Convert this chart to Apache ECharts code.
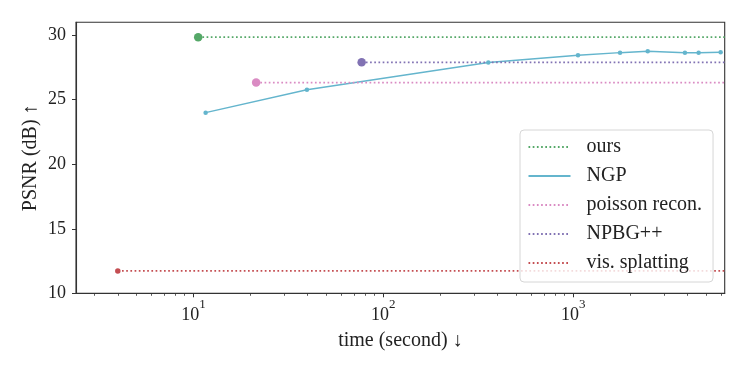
<!DOCTYPE html>
<html><head><meta charset="utf-8">
<script src="https://cdn.jsdelivr.net/npm/echarts@6/dist/echarts.min.js"></script>
<style>html,body{margin:0;padding:0;background:#fff}#c{width:747px;height:374px}</style>
</head><body><div id="c"></div>
<script>
// ---- data ----
const seriesNames = ['ours', 'NGP', 'poisson recon.', 'NPBG++', 'vis. splatting'];
const oursTime = [10.6];
const oursPsnr = [29.85];
const ngpTime = [11.6, 39.6, 357, 1059, 1763, 2466, 3871, 4570, 5970];
const ngpPsnr = [24.0, 25.78, 27.88, 28.45, 28.65, 28.76, 28.65, 28.64, 28.68];
const poissonTime = [21.4];
const poissonPsnr = [26.33];
const npbgTime = [76.9];
const npbgPsnr = [27.9];
const visTime = [4.0];
const visPsnr = [11.73];
const xMajorTicks = [10, 100, 1000];
const xMinorTicks = [3, 4, 5, 6, 7, 8, 9, 20, 30, 40, 50, 60, 70, 80, 90,
  200, 300, 400, 500, 600, 700, 800, 900, 2000, 3000, 4000, 5000, 6000];
const yTicks = [10, 15, 20, 25, 30];
const xMin = 2.41, xMax = 6270, yMin = 10, yMax = 31;

const colors = {
  'ours': '#55A868', 'NGP': '#64B5CD', 'poisson recon.': '#DA8BC3',
  'NPBG++': '#8172B3', 'vis. splatting': '#C44E52'
};
const FONT = '"Liberation Serif", "DejaVu Serif", serif';
const AX = '#333333';

function zipPts(t, p) { return t.map((v, i) => [v, p[i]]); }

function hline(name, t, p) {
  return {
    name: name, type: 'line', data: [[t[0], p[0]], [xMax, p[0]]],
    symbol: 'none', clip: true, z: 3,
    lineStyle: { color: colors[name], width: 1.7, type: [1.7, 2.5], cap: 'butt' },
    itemStyle: { color: colors[name] }
  };
}
function dot(name, t, p, size) {
  return {
    name: name + '_pt', type: 'scatter', data: zipPts(t, p),
    symbol: 'circle', symbolSize: size, z: 4,
    itemStyle: { color: colors[name], opacity: 1 }
  };
}

const chart = echarts.init(document.getElementById('c'), null, { renderer: 'canvas' });
chart.setOption({
  animation: false,
  backgroundColor: '#fff',
  textStyle: { fontFamily: FONT },
  grid: { left: 76, right: 22.3, top: 22.3, bottom: 80.7, show: true,
    borderColor: AX, borderWidth: 1.1, backgroundColor: 'transparent' },
  legend: {
    data: seriesNames,
    orient: 'vertical', left: 520, top: 130,
    padding: [7, 11, 9, 7.5],
    itemWidth: 42, itemHeight: 14, itemGap: 9,
    itemStyle: { opacity: 0 },
    backgroundColor: 'rgba(255,255,255,0.8)',
    borderColor: '#d6d6d6', borderWidth: 1, borderRadius: 4,
    textStyle: { fontFamily: FONT, fontSize: 20, color: '#222', lineHeight: 20, padding: [0, 0, 0, 11] }
  },
  xAxis: [{
    type: 'log', logBase: 10, min: xMin, max: xMax,
    name: 'time (second) \u2193', nameLocation: 'middle', nameGap: 37,
    nameTextStyle: { fontFamily: FONT, fontSize: 20, color: '#222' },
    axisLine: { show: true, lineStyle: { color: AX, width: 1.1 } },
    axisTick: { show: true, length: 4, customValues: xMajorTicks, lineStyle: { color: AX, width: 1 } },
    axisLabel: {
      show: true, margin: 5, customValues: xMajorTicks,
      formatter: function (v) { return '{b|10}{s|' + Math.round(Math.log10(v)) + '}'; },
      rich: {
        b: { fontFamily: FONT, fontSize: 18, color: '#222', verticalAlign: 'bottom', lineHeight: 18 },
        s: { fontFamily: FONT, fontSize: 13, color: '#222', verticalAlign: 'top', padding: [0, 0, 13, 0] }
      }
    },
    splitLine: { show: false }, minorTick: { show: false }
  }, {
    type: 'log', logBase: 10, min: xMin, max: xMax, position: 'bottom',
    axisLine: { show: false },
    axisTick: { show: true, length: 2.5, customValues: xMinorTicks, lineStyle: { color: AX, width: 0.8 } },
    axisLabel: { show: false }, splitLine: { show: false }
  }],
  yAxis: {
    type: 'value', min: yMin, max: yMax, interval: 5,
    name: 'PSNR (dB) \u2191', nameLocation: 'middle', nameGap: 35, nameRotate: 90,
    nameMoveOverlap: false,
    nameTextStyle: { fontFamily: FONT, fontSize: 20, color: '#222' },
    axisLine: { show: true, lineStyle: { color: AX, width: 1.1 } },
    axisTick: { show: true, length: 4, customValues: yTicks, lineStyle: { color: AX, width: 1 } },
    axisLabel: { show: true, margin: 10, customValues: yTicks, fontFamily: FONT, fontSize: 18, color: '#222' },
    splitLine: { show: false }
  },
  series: [
    hline('ours', oursTime, oursPsnr),
    {
      name: 'NGP', type: 'line', data: zipPts(ngpTime, ngpPsnr), symbol: 'none', z: 3,
      lineStyle: { color: colors['NGP'], width: 1.5 }, itemStyle: { color: colors['NGP'] }
    },
    hline('poisson recon.', poissonTime, poissonPsnr),
    hline('NPBG++', npbgTime, npbgPsnr),
    hline('vis. splatting', visTime, visPsnr),
    dot('ours', oursTime, oursPsnr, 8.5),
    dot('NGP', ngpTime, ngpPsnr, 4.5),
    dot('poisson recon.', poissonTime, poissonPsnr, 8.5),
    dot('NPBG++', npbgTime, npbgPsnr, 8.5),
    dot('vis. splatting', visTime, visPsnr, 5.5)
  ]
});
</script></body></html>
